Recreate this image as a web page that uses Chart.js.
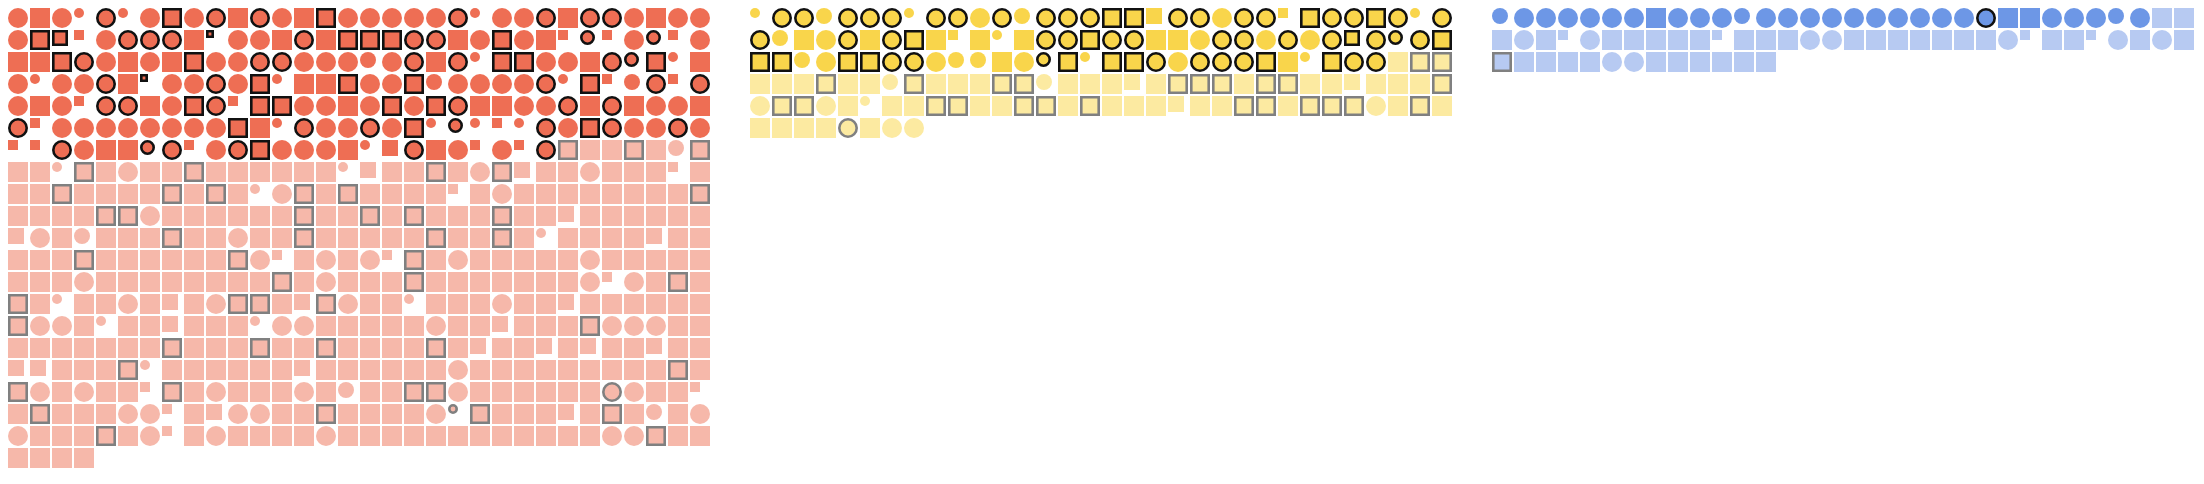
<!DOCTYPE html>
<html>
<head>
<meta charset="utf-8">
<script src="https://cdn.jsdelivr.net/npm/chart.js@4.4.1/dist/chart.umd.min.js"></script>
<style>
html,body{margin:0;padding:0;background:#ffffff;overflow:hidden}
#wrap{width:2204px;height:484px;position:relative}
</style>
</head>
<body>
<div id="wrap"><canvas id="c" width="2204" height="484"></canvas></div>
<script>
// ---- DATA (one character per unit cell) ----
// C/c/d = circle full/medium/small, S/s/t = square full/medium/small,
// O/o/p = outlined circle full/medium/small, Q/q/r = outlined square full/medium/small
const redRows = [
  "CSCdOdCQCOSOCSQC" + "CCCCOdCCOSOOCSCC",
  "CQqtCOOOSrCCSOSQ" + "QQOOSCQCStotCotC",
  "SSQOCSCSQCCOOCCC" + "cCOSOdQQCCSOoQdS",
  "CdCCOSrCCOCQdSSQ" + "CCQcCCCCOdQtcOtO",
  "CSCtOOSCQOtQQCCS" + "CQCQOSSCCOSOSCCS",
  "OtCCCCCCCCQSdOCC" + "OCQdodtdOCQOCCOC",
  "ttOCSSoOtCOQCCCS" + "dsOSCtCtOQSSQScQ",
  "SSdQSCSSQSSSSSSd" + "sSSQSCQsSSCSSStS",
  "SSQSSSSQSQSdCQSQ" + "SSSStSCSSSSSSSSQ",
  "SSSSQQCSSSSSSQSS" + "QSQSSSQSSsSSSSSS",
  "sCScSSSQSSCSSQSS" + "SSSQSSQSdSSSSsSS",
  "SSSQSSSSSSQCtSCS" + "CtQSCSSSSSCSSSSS",
  "SSSCSSSSSSSSQSCS" + "SSQSSSSSSSCtCSQS",
  "QSdSSCSsSCQQSsQC" + "SSdSSSCSSsSSSSSS",
  "QCCSdSSsSSSdCCSS" + "SSSCSSsSSSQCCCSS",
  "SSSSSSSQSSSQSSQS" + "SSSQSsSSsSsSSsSS",
  "ssSSSQdSSSSSSsSS" + "SSSSCSSSSSSSSSQS",
  "QCSCSStQSCSSSCSc" + "SSQQCSSSSSSOCSSt",
  "SQSSSCCtSsCCSSQS" + "SSSCpQSSSsSQScSC",
  "CSSSQSCtSCSSSSCS" + "SSSSSSSSSSSCCQSS",
  "SSSS"
];
const yellowRows = [
  "dOOcOOOdOOCOcOOO" + "QQsOOCOOtQOOQOdO",
  "OcSCOSOQStSdSOOQ" + "OOSSCOOCOCOqOoOQ",
  "QQcCQQOOCccSCoQd" + "QQOCOOOQSdQOOSQQ",
  "SSSQSScQSSSQQcSS" + "SsSQQQSQQSSsSSSQ",
  "CQQCSdSSQQSSQQSQ" + "SSSsSSQQSQQQCSQS",
  "SSSSOSCC"
];
const blueRows = [
  "cCCCCCCSCCCcCCCC" + "CCCCCCOSSCCCcCSS",
  "SCStCSSSSStSSSCC" + "SSSSSSSCtSStCSCS",
  "QSSSSCCSSSSSS"
];
// number of cells (in reading order) drawn in the strong shade
const darkCounts = [217, 93, 30];

// ---- STYLE ----
const darkColors  = ["#EE6E54", "#F9D54B", "#6D97E6"];
const lightColors = ["#F6B8AA", "#FCEAA1", "#B7CAF2"];
const outlineDark = "#111111";
const outlineLight = "#808080";
const LW = 2.6;            // outline width (px)
const CELL = 20;           // cell size (px)
const PITCH = 22;          // cell pitch (px)
const FIRST_CENTER = 18;   // px from the canvas edge to the first cell centre
const GROUP_SHIFT = 742 / PITCH; // columns between the starts of two groups
const W = 2204, H = 484;

const GLYPHS = {
  C: {shape: "circle", size: 20, outline: false},
  c: {shape: "circle", size: 16, outline: false},
  d: {shape: "circle", size: 10, outline: false},
  S: {shape: "rect",   size: 20, outline: false},
  s: {shape: "rect",   size: 16, outline: false},
  t: {shape: "rect",   size: 10, outline: false},
  O: {shape: "circle", size: 20, outline: true},
  o: {shape: "circle", size: 15, outline: true},
  p: {shape: "circle", size: 10, outline: true},
  Q: {shape: "rect",   size: 20, outline: true},
  q: {shape: "rect",   size: 16, outline: true},
  r: {shape: "rect",   size: 8,  outline: true}
};

function buildPoints(rows, g) {
  const pts = [];
  let idx = 0;
  rows.forEach((row, r) => {
    for (let col = 0; col < row.length; col++) {
      const code = row[col];
      const gl = GLYPHS[code];
      if (!gl) { idx++; continue; }
      // marks are anchored to the top-left corner of their cell
      const off = (gl.size / 2 - CELL / 2) / PITCH;
      pts.push({
        x: g * GROUP_SHIFT + col + off,
        y: r + off,
        code: code,
        dark: idx < darkCounts[g]
      });
      idx++;
    }
  });
  return pts;
}

function glyphRadius(code) {
  const gl = GLYPHS[code];
  const d = gl.size - (gl.outline ? LW : 0);
  return gl.shape === "circle" ? d / 2 : d / Math.SQRT2;
}

const allRows = [redRows, yellowRows, blueRows];
const datasets = allRows.map((rows, g) => ({
  label: ["red", "yellow", "blue"][g],
  data: buildPoints(rows, g),
  showLine: false,
  pointStyle: ctx => GLYPHS[ctx.raw.code].shape,
  pointRadius: ctx => glyphRadius(ctx.raw.code),
  pointHoverRadius: ctx => glyphRadius(ctx.raw.code),
  pointBorderWidth: ctx => GLYPHS[ctx.raw.code].outline ? LW : 0,
  pointBackgroundColor: ctx => ctx.raw.dark ? darkColors[g] : lightColors[g],
  pointBorderColor: ctx => ctx.raw.dark ? outlineDark : outlineLight
}));

const xMin = -FIRST_CENTER / PITCH;
const yMin = -FIRST_CENTER / PITCH;

new Chart(document.getElementById("c"), {
  type: "scatter",
  data: {datasets},
  options: {
    responsive: false,
    animation: false,
    events: [],
    layout: {padding: 0, autoPadding: false},
    clip: false,
    plugins: {legend: {display: false}, tooltip: {enabled: false}},
    scales: {
      x: {type: "linear", display: false, min: xMin, max: xMin + W / PITCH},
      y: {type: "linear", display: false, reverse: true, min: yMin, max: yMin + H / PITCH}
    }
  }
});
</script>
</body>
</html>
